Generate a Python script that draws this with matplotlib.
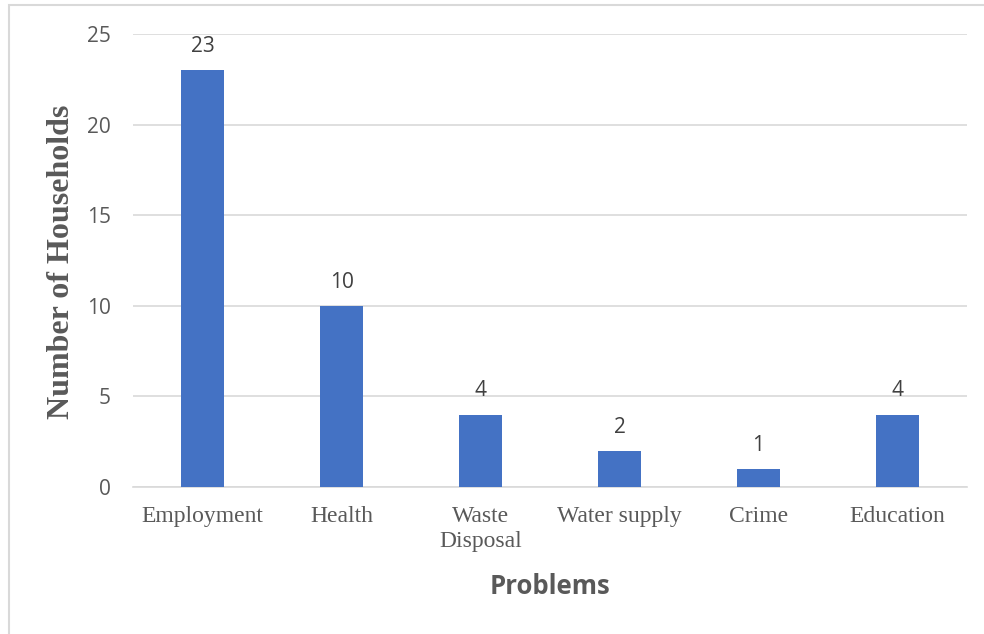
import matplotlib
matplotlib.use("Agg")
import matplotlib.pyplot as plt
from matplotlib.patches import Rectangle

# Household-reported problems
categories = ["Employment", "Health", "Waste\nDisposal", "Water supply", "Crime", "Education"]
households = [23, 10, 4, 2, 1, 4]
y_ticks = [0, 5, 10, 15, 20, 25]

BAR_COLOR = "#4472C4"
GRID_COLOR = "#D9D9D9"
TEXT_COLOR = "#595959"

fig = plt.figure(figsize=(9.84, 6.34), dpi=100)
fig.patch.set_facecolor("white")

# Light frame around the chart area
fig.add_artist(Rectangle((9 / 984, -0.1), 1.2, 1 - 5 / 634 + 0.1,
                         transform=fig.transFigure, fill=False,
                         edgecolor=GRID_COLOR, linewidth=1.5))

ax = fig.add_axes([133 / 984, 1 - 487 / 634, (967 - 133) / 984, (487 - 34) / 634])

x = range(len(categories))
ax.bar(x, households, width=0.31, color=BAR_COLOR, zorder=3)

for xi, v in zip(x, households):
    ax.annotate(str(v), (xi, v), xytext=(0, 9.5), textcoords="offset points",
                ha="center", va="bottom", fontsize=15, family="Open Sans",
                color="#404040")

ax.set_xlim(-0.5, len(categories) - 0.5)
ax.set_ylim(0, 25)
ax.set_yticks(y_ticks)
ax.set_xticks(list(x))
ax.set_xticklabels(categories, family="Liberation Serif", fontsize=17,
                   color=TEXT_COLOR, linespacing=1.2)
ax.set_yticklabels([str(t) for t in y_ticks], family="Open Sans", fontsize=15,
                   color=TEXT_COLOR)
ax.tick_params(axis="both", length=0)
ax.tick_params(axis="x", pad=14)
ax.tick_params(axis="y", pad=16)

ax.grid(axis="y", color=GRID_COLOR, linewidth=1.2, zorder=0)
for side in ("top", "right", "left"):
    ax.spines[side].set_visible(False)
ax.spines["bottom"].set_color(GRID_COLOR)
ax.spines["bottom"].set_linewidth(1.2)

fig.text(62 / 984, 1 - 262 / 634, "Number of Households", rotation=90,
         ha="center", va="center", family="Liberation Serif", fontweight="bold",
         fontsize=23, color=TEXT_COLOR)
fig.text(550 / 984, 1 - 586 / 634, "Problems", ha="center", va="center",
         family="Open Sans", fontweight="bold", fontsize=18.5, color=TEXT_COLOR)

fig.savefig("out.png", dpi=100, facecolor="white")
